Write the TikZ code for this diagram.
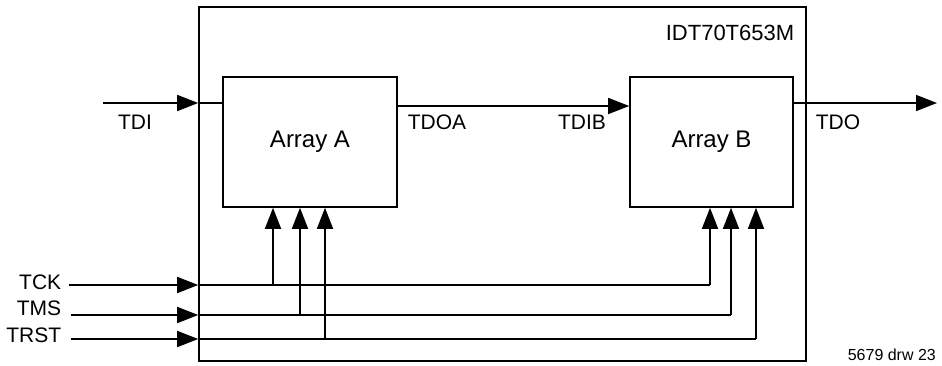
\documentclass[tikz,border=0pt]{standalone}
\usepackage{fontspec}
\setmainfont{Liberation Sans}
\usepackage{tikz}
\usetikzlibrary{arrows.meta, positioning, calc}

\begin{document}
\begin{tikzpicture}[
    x=1pt, y=-1pt,
    line width=1.6pt,
    font=\fontsize{21}{25}\selectfont,
    kotak/.style={draw, line width=1.6pt, inner sep=0pt},
    blok/.style={kotak, font=\fontsize{24}{28}\selectfont},
    panah/.style={-{Triangle[length=21pt, width=16pt]}},
    ket/.style={inner sep=0pt}
  ]
    \useasboundingbox (0,0) rectangle (942,365);
    \node[kotak, minimum width=607pt, minimum height=354pt] (chip) at (502.5,184) {};
    \node[blok, minimum width=174pt, minimum height=130pt] (arrA) at (310,142) {Array A};
    \node[blok, minimum width=163pt, minimum height=130pt] (arrB) at (711.5,142) {Array B};
    \node[ket, anchor=east, font=\fontsize{22}{26}\selectfont] (nama) at (795,33) {IDT70T653M};
    % data scan
    \coordinate (tdi) at (103,103);
    \coordinate (tdo) at (937,103);
    \draw[panah] (tdi) -- (tdi -| chip.west);
    \draw (tdi -| chip.west) -- (tdi -| arrA.west);
    \draw[panah] (arrA.east |- 0,106) -- (arrB.west |- 0,106);
    \draw[panah] (arrB.east |- tdo) -- (tdo);
    \node[ket] (lTDI) at (135,122) {TDI};
    \node[ket] (lTDOA) at (437,122) {TDOA};
    \node[ket] (lTDIB) at (582,122) {TDIB};
    \node[ket] (lTDO) at (838,122) {TDO};
    % sinyal kendali
    \node[ket, anchor=east] (lTCK) at (62,282) {TCK};
    \node[ket, anchor=east] (lTMS) at (62,308) {TMS};
    \node[ket, anchor=east] (lTRST) at (62,335) {TRST};
    \coordinate (ck) at (69,285);
    \coordinate (ms) at (71,315);
    \coordinate (rs) at (71,339);
    \coordinate (ckA) at (273,285);
    \coordinate (msA) at (300,315);
    \coordinate (rsA) at (325,339);
    \coordinate (ckB) at (710,285);
    \coordinate (msB) at (731,315);
    \coordinate (rsB) at (756,339);
    \draw[panah] (ck) -- (ck -| chip.west);
    \draw[panah] (ms) -- (ms -| chip.west);
    \draw[panah] (rs) -- (rs -| chip.west);
    \draw (ck -| chip.west) -- (ckB);
    \draw (ms -| chip.west) -- (msB);
    \draw (rs -| chip.west) -- (rsB);
    \draw[panah] (ckA) -- (ckA |- arrA.south);
    \draw[panah] (msA) -- (msA |- arrA.south);
    \draw[panah] (rsA) -- (rsA |- arrA.south);
    \draw[panah] (ckB) -- (ckB |- arrB.south);
    \draw[panah] (msB) -- (msB |- arrB.south);
    \draw[panah] (rsB) -- (rsB |- arrB.south);
    \node[ket, anchor=west, font=\fontsize{16}{19}\selectfont] (kode) at (847,355) {5679 drw 23};
  \end{tikzpicture}
\end{document}
